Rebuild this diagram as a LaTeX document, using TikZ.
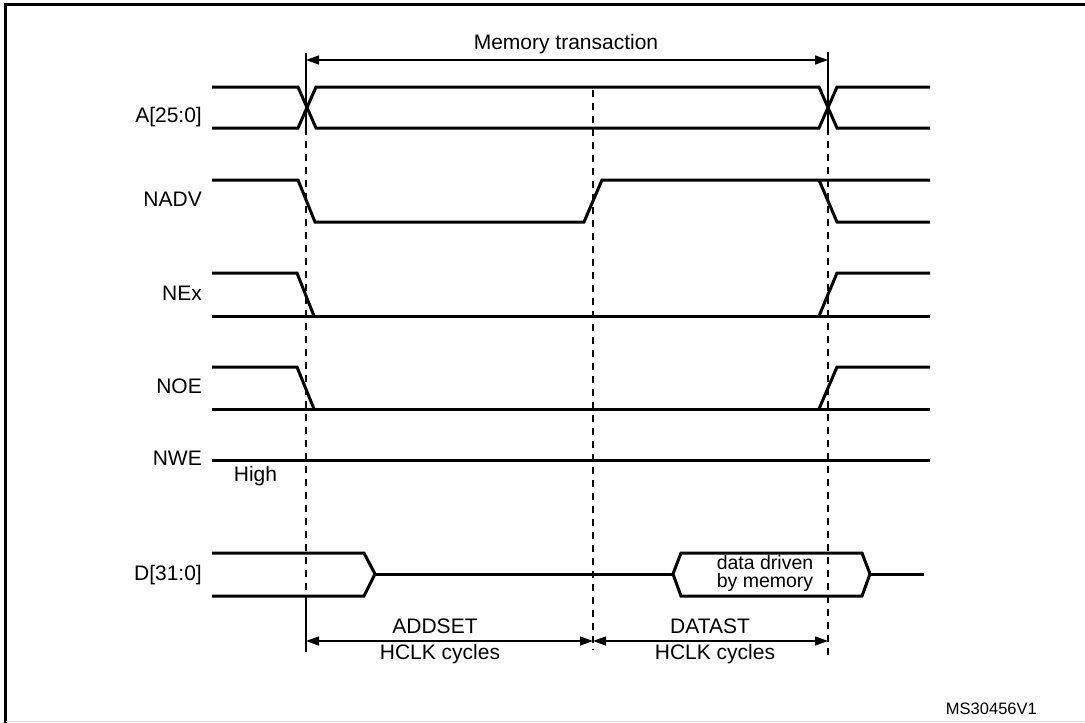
\documentclass[tikz,border=0pt]{standalone}
\usepackage{fontspec}
\setmainfont{Liberation Sans}
\usetikzlibrary{arrows.meta}
\begin{document}
\begin{tikzpicture}[x=1pt,y=-1pt,
  sig/.style={line width=3pt},
  dim/.style={line width=1.3pt, {Triangle[length=13pt,width=9pt]}-{Triangle[length=13pt,width=9pt]}},
  ext/.style={line width=1.3pt},
  guide/.style={line width=1.5pt, dash pattern=on 7pt off 6pt},
  lbl/.style={anchor=base east, inner sep=0pt, font=\fontsize{21}{24}\selectfont},
  txt/.style={anchor=base, inner sep=0pt, font=\fontsize{21}{24}\selectfont},
  small/.style={anchor=north, inner sep=0pt, align=center, font=\fontsize{19.5}{18.5}\selectfont},
]
\useasboundingbox (0,0) rectangle (1085,723);
% frame
\draw[line width=2.4pt] (5.5,723) -- (5.5,4.5) -- (1085,4.5);
\draw[black!10, line width=1pt] (5.5,721.5) -- (1085,721.5);

% time marks
\coordinate (t1top) at (306,53);
\coordinate (t1a) at (306,128);
\coordinate (t1b) at (306,597);
\coordinate (t1bot) at (306,652);
\coordinate (t2top) at (593,90);
\coordinate (t2bot) at (593,650);
\coordinate (t3top) at (828,52);
\coordinate (t3a) at (828,128);
\coordinate (t3bot) at (828,661);

% extension and guide lines
\draw[ext] (t1top) -- (t1a);
\draw[guide] (t1a) -- (t1b);
\draw[ext] (t1b) -- (t1bot);
\draw[guide] (t2top) -- (t2bot);
\draw[ext] (t3top) -- (t3a);
\draw[guide] (t3a) -- (t3bot);

% Memory transaction
\coordinate (mt1) at (306,60);
\coordinate (mt2) at (828,60);
\draw[dim] (mt1) -- (mt2);
\node[txt] (mtlabel) at (566,49) {Memory transaction};

% A[25:0]
\node[lbl] (lA) at (202,122) {A[25:0]};
\draw[sig] (212,87) -- (298,87) -- (316,128) -- (819,128) -- (837,87) -- (930,87);
\draw[sig] (212,128) -- (298,128) -- (316,87) -- (819,87) -- (837,128) -- (930,128);

% NADV
\node[lbl] (lNADV) at (202,206) {NADV};
\draw[sig] (212,180) -- (298,180) -- (315,222) -- (584,222) -- (602,180) -- (930,180);
\draw[sig] (819,180) -- (837,222) -- (930,222);

% NEx
\node[lbl] (lNEx) at (202,300) {NEx};
\draw[sig] (212,273) -- (297,273) -- (314,316);
\draw[sig] (212,316) -- (930,316);
\draw[sig] (819,316) -- (837,273) -- (930,273);

% NOE
\node[lbl] (lNOE) at (202,393) {NOE};
\draw[sig] (212,367) -- (297,367) -- (314,409);
\draw[sig] (212,409) -- (930,409);
\draw[sig] (819,409) -- (837,367) -- (930,367);

% NWE
\node[lbl] (lNWE) at (202,465) {NWE};
\draw[sig] (212,460) -- (930,460);
\node[txt] (lHigh) at (255.5,481) {High};

% D[31:0]
\node[lbl] (lD) at (202,580) {D[31:0]};
\draw[sig] (212,553) -- (364,553) -- (375,574) -- (364,596) -- (212,596);
\draw[sig] (375,574) -- (673,574);
\draw[sig] (673,574) -- (681,553) -- (862,553) -- (870,574) -- (862,596) -- (681,596) -- cycle;
\draw[sig] (870,574) -- (924,574);
\node[small] (dd) at (765,555) {data driven\\by memory};

% ADDSET / DATAST
\coordinate (a1) at (306,641);
\coordinate (a2) at (593,641);
\coordinate (a3) at (828,641);
\draw[dim] (a1) -- (a2);
\draw[dim] (a2) -- (a3);
\node[txt] (addset) at (435,633) {ADDSET};
\node[txt] (hclk1) at (440,659) {HCLK cycles};
\node[txt] (datast) at (710,633) {DATAST};
\node[txt] (hclk2) at (715,659) {HCLK cycles};

% reference code
\node[anchor=base east, inner sep=0pt, font=\fontsize{16.5}{18}\selectfont] (ms) at (1037,714) {MS30456V1};
\end{tikzpicture}
\end{document}
